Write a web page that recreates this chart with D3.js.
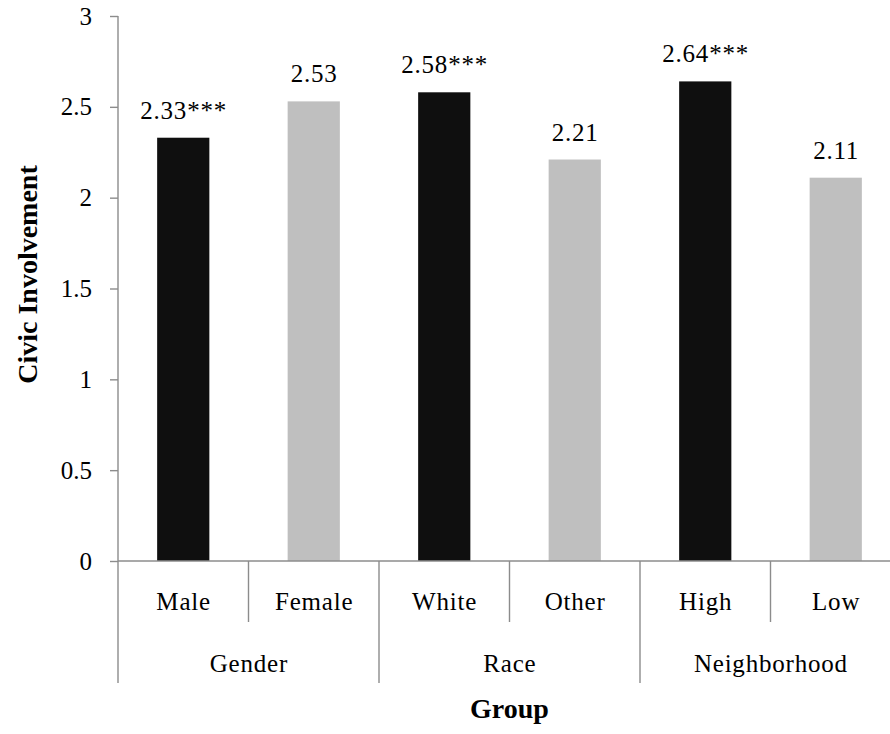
<!DOCTYPE html>
<html>
<head>
<meta charset="utf-8">
<script src="https://cdn.jsdelivr.net/npm/d3@7"></script>
<style>
  html, body { margin: 0; padding: 0; background: #fff; }
  svg { display: block; }
</style>
</head>
<body>
<svg id="chart" width="890" height="734"></svg>
<script>
// Civic involvement by group
const categories = ["Male", "Female", "White", "Other", "High", "Low"];
const groups = ["Gender", "Race", "Neighborhood"];
const values = [2.33, 2.53, 2.58, 2.21, 2.64, 2.11];
const significance = ["***", "", "***", "", "***", ""];
const yTicks = [0, 0.5, 1, 1.5, 2, 2.5, 3];

const W = 890, H = 734;
const plotLeft = 118, plotRight = 901, plotTop = 16, plotBottom = 561;
const axisColor = "#8c8c8c";
const barColors = ["#0f0f0f", "#bfbfbf"];
const serif = '"Liberation Serif", "Times New Roman", Times, serif';
const labelSize = 25, spacing = 0.8;

const svg = d3.select("#chart")
  .style("font-family", serif);

const x = d3.scaleBand().domain(categories).range([plotLeft, plotRight]).padding(0);
const y = d3.scaleLinear().domain([0, 3]).range([plotBottom, plotTop]);
const barW = x.bandwidth() * 0.4;

// y axis
const yAxis = svg.append("g")
  .attr("transform", `translate(${plotLeft},0)`)
  .call(d3.axisLeft(y).tickValues(yTicks).tickSize(8).tickPadding(18)
    .tickFormat(d => String(d)));
yAxis.attr("font-family", null).attr("font-size", null);
yAxis.select(".domain").remove();
yAxis.selectAll(".tick line").attr("stroke", axisColor).attr("stroke-width", 1.4);
yAxis.selectAll(".tick text")
  .attr("font-family", serif)
  .attr("font-size", labelSize).attr("fill", "#000");
svg.append("line")
  .attr("x1", plotLeft).attr("x2", plotLeft).attr("y1", plotTop).attr("y2", 683)
  .attr("stroke", axisColor).attr("stroke-width", 1.4);

// bars
svg.selectAll("rect.bar").data(categories).join("rect")
  .attr("class", "bar")
  .attr("x", d => x(d) + (x.bandwidth() - barW) / 2)
  .attr("y", (d, i) => y(values[i]))
  .attr("width", barW)
  .attr("height", (d, i) => y(0) - y(values[i]))
  .attr("fill", (d, i) => barColors[i % 2]);

// value labels
svg.selectAll("text.val").data(categories).join("text")
  .attr("class", "val")
  .attr("x", d => x(d) + x.bandwidth() / 2 + spacing / 2)
  .attr("y", (d, i) => y(values[i]) - 19)
  .attr("text-anchor", "middle")
  .attr("font-family", serif).attr("font-size", labelSize)
  .attr("letter-spacing", spacing)
  .text((d, i) => values[i].toFixed(2) + significance[i]);

// x axis baseline
svg.append("line")
  .attr("x1", plotLeft).attr("x2", W).attr("y1", y(0)).attr("y2", y(0))
  .attr("stroke", axisColor).attr("stroke-width", 1.4);

// category dividers: short between categories, long between groups
categories.forEach((c, i) => {
  if (i === 0) return;
  const xx = x(c);
  svg.append("line")
    .attr("x1", xx).attr("x2", xx).attr("y1", y(0))
    .attr("y2", i % 2 === 0 ? 683 : 622)
    .attr("stroke", axisColor).attr("stroke-width", 1.4);
});
svg.append("line")
  .attr("x1", plotRight).attr("x2", plotRight).attr("y1", y(0)).attr("y2", 683)
  .attr("stroke", axisColor).attr("stroke-width", 1.4);

// category labels
svg.selectAll("text.cat").data(categories).join("text")
  .attr("class", "cat")
  .attr("x", d => x(d) + x.bandwidth() / 2 + spacing / 2)
  .attr("y", 610)
  .attr("text-anchor", "middle")
  .attr("font-family", serif).attr("font-size", labelSize)
  .attr("letter-spacing", spacing)
  .text(d => d);

// group labels
svg.selectAll("text.grp").data(groups).join("text")
  .attr("class", "grp")
  .attr("x", (d, i) => x(categories[i * 2]) + x.bandwidth() + spacing / 2)
  .attr("y", 672)
  .attr("text-anchor", "middle")
  .attr("font-family", serif).attr("font-size", labelSize)
  .attr("letter-spacing", spacing)
  .text(d => d);

// axis titles
svg.append("text")
  .attr("x", (plotLeft + plotRight) / 2).attr("y", 718)
  .attr("text-anchor", "middle")
  .attr("font-family", serif).attr("font-size", 28).attr("font-weight", "bold")
  .text("Group");

svg.append("text")
  .attr("transform", `translate(37,${(plotTop + plotBottom) / 2 - 14}) rotate(-90)`)
  .attr("text-anchor", "middle")
  .attr("font-family", serif).attr("font-size", 28).attr("font-weight", "bold")
  .text("Civic Involvement");
</script>
</body>
</html>
